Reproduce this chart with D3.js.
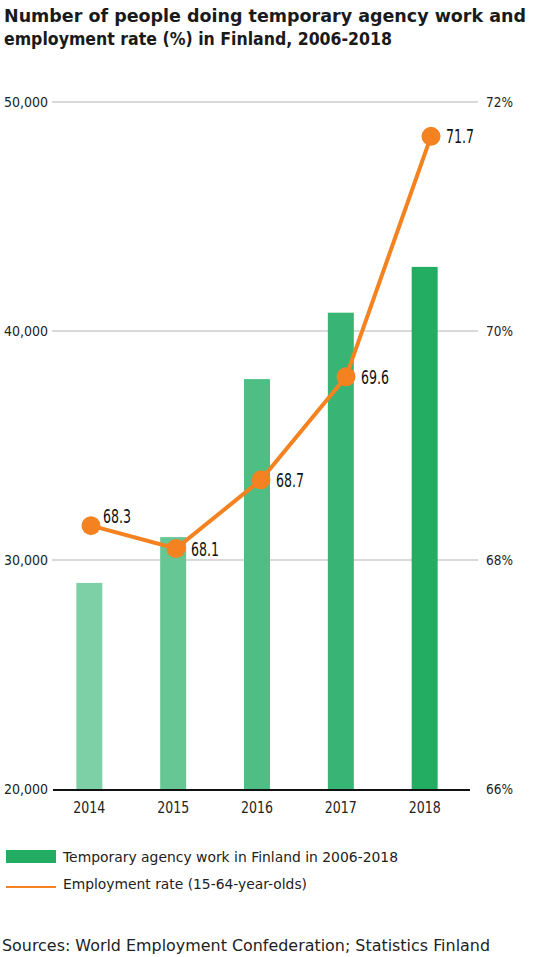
<!DOCTYPE html>
<html>
<head>
<meta charset="utf-8">
<script src="https://cdn.jsdelivr.net/npm/d3@7"></script>
<style>
  body { margin: 0; background: #fff; }
  text { font-family: "DejaVu Sans", sans-serif; }
</style>
</head>
<body>
<div id="chart"></div>
<script>
const years = ["2014", "2015", "2016", "2017", "2018"]
const agencyWork = [29000, 31000, 37900, 40800, 42800]
const employmentRate = [68.3, 68.1, 68.7, 69.6, 71.7]
const barColors = ["#7dd0a6", "#66c795", "#4fbe85", "#38b574", "#22ad63"]
const leftTicks = [20000, 30000, 40000, 50000]
const rightTicks = [66, 68, 70, 72]

const width = 533, height = 957

const svg = d3.select("#chart").append("svg")
    .attr("width", width)
    .attr("height", height)

// title
const title = svg.append("g")
    .attr("font-weight", "bold")
    .attr("font-size", 17)
    .attr("fill", "#1a1a1a")
title.append("text").attr("x", 4).attr("y", 22)
    .attr("textLength", 522).attr("lengthAdjust", "spacingAndGlyphs")
    .text("Number of people doing temporary agency work and")
title.append("text").attr("x", 4).attr("y", 45)
    .attr("textLength", 388).attr("lengthAdjust", "spacingAndGlyphs")
    .text("employment rate (%) in Finland, 2006-2018")

const yLeft = d3.scaleLinear().domain([20000, 50000]).range([789, 102])
const yRight = d3.scaleLinear().domain([66, 72]).range([789, 102])
const x = d3.scaleBand().domain(years).range([47, 467]).paddingInner(0.69).paddingOuter(0.35)
const xLine = d3.scalePoint().domain(years).range([91, 431])

// gridlines
svg.append("g")
    .selectAll("line")
    .data(leftTicks.slice(1))
    .join("line")
    .attr("x1", 52)
    .attr("x2", 478)
    .attr("y1", d => yLeft(d))
    .attr("y2", d => yLeft(d))
    .attr("stroke", "#cccccc")
    .attr("stroke-width", 1.5)

// left labels
svg.append("g")
    .selectAll("text")
    .data(leftTicks)
    .join("text")
    .attr("x", 48)
    .attr("y", d => yLeft(d) + 5)
    .attr("text-anchor", "end")
    .attr("font-size", 13.5)
    .attr("fill", "#222")
    .attr("textLength", 44).attr("lengthAdjust", "spacingAndGlyphs")
    .text(d => d3.format(",")(d))

// right labels
svg.append("g")
    .selectAll("text")
    .data(rightTicks)
    .join("text")
    .attr("x", 486)
    .attr("y", d => yRight(d) + 5)
    .attr("font-size", 13.5)
    .attr("fill", "#222")
    .attr("textLength", 27).attr("lengthAdjust", "spacingAndGlyphs")
    .text(d => d + "%")

// bars
svg.append("g")
    .selectAll("rect")
    .data(agencyWork)
    .join("rect")
    .attr("x", (d, i) => x(years[i]))
    .attr("width", x.bandwidth())
    .attr("y", d => yLeft(d))
    .attr("height", d => yLeft(20000) - yLeft(d))
    .attr("fill", (d, i) => barColors[i])

// baseline
svg.append("line")
    .attr("x1", 53).attr("x2", 470)
    .attr("y1", 790).attr("y2", 790)
    .attr("stroke", "#111")
    .attr("stroke-width", 1.8)

// year labels
svg.append("g")
    .selectAll("text")
    .data(years)
    .join("text")
    .attr("x", d => x(d) + x.bandwidth() / 2)
    .attr("y", 813)
    .attr("text-anchor", "middle")
    .attr("font-size", 15)
    .attr("fill", "#222")
    .attr("textLength", 32).attr("lengthAdjust", "spacingAndGlyphs")
    .text(d => d)

// employment line
const line = d3.line()
    .x((d, i) => xLine(years[i]))
    .y(d => yRight(d))

svg.append("path")
    .datum(employmentRate)
    .attr("d", line)
    .attr("fill", "none")
    .attr("stroke", "#f58220")
    .attr("stroke-width", 4)

svg.append("g")
    .selectAll("circle")
    .data(employmentRate)
    .join("circle")
    .attr("cx", (d, i) => xLine(years[i]))
    .attr("cy", d => yRight(d))
    .attr("r", 9.5)
    .attr("fill", "#f58220")

// value labels
svg.append("g")
    .selectAll("text")
    .data(employmentRate)
    .join("text")
    .attr("x", (d, i) => xLine(years[i]) + (i == 0 ? 12 : 15))
    .attr("y", (d, i) => yRight(d) + (i == 0 ? -3 : 7))
    .attr("font-family", "'Liberation Sans', sans-serif")
    .attr("font-size", 19)
    .attr("fill", "#111")
    .attr("textLength", 28).attr("lengthAdjust", "spacingAndGlyphs")
    .text(d => d3.format(".1f")(d))

// legend
const legend = svg.append("g").attr("font-size", 13.5).attr("fill", "#222")
legend.append("rect")
    .attr("x", 6).attr("y", 850).attr("width", 50).attr("height", 13)
    .attr("fill", "#22ad63")
legend.append("text").attr("x", 63).attr("y", 862)
    .attr("textLength", 335).attr("lengthAdjust", "spacingAndGlyphs")
    .text("Temporary agency work in Finland in 2006-2018")
legend.append("line")
    .attr("x1", 6).attr("x2", 56).attr("y1", 887).attr("y2", 887)
    .attr("stroke", "#f58220").attr("stroke-width", 2)
legend.append("text").attr("x", 63).attr("y", 889)
    .attr("textLength", 244).attr("lengthAdjust", "spacingAndGlyphs")
    .text("Employment rate (15-64-year-olds)")

// sources
svg.append("text")
    .attr("x", 2).attr("y", 951)
    .attr("font-size", 15)
    .attr("fill", "#222")
    .attr("textLength", 488).attr("lengthAdjust", "spacingAndGlyphs")
    .text("Sources: World Employment Confederation; Statistics Finland")
</script>
</body>
</html>
